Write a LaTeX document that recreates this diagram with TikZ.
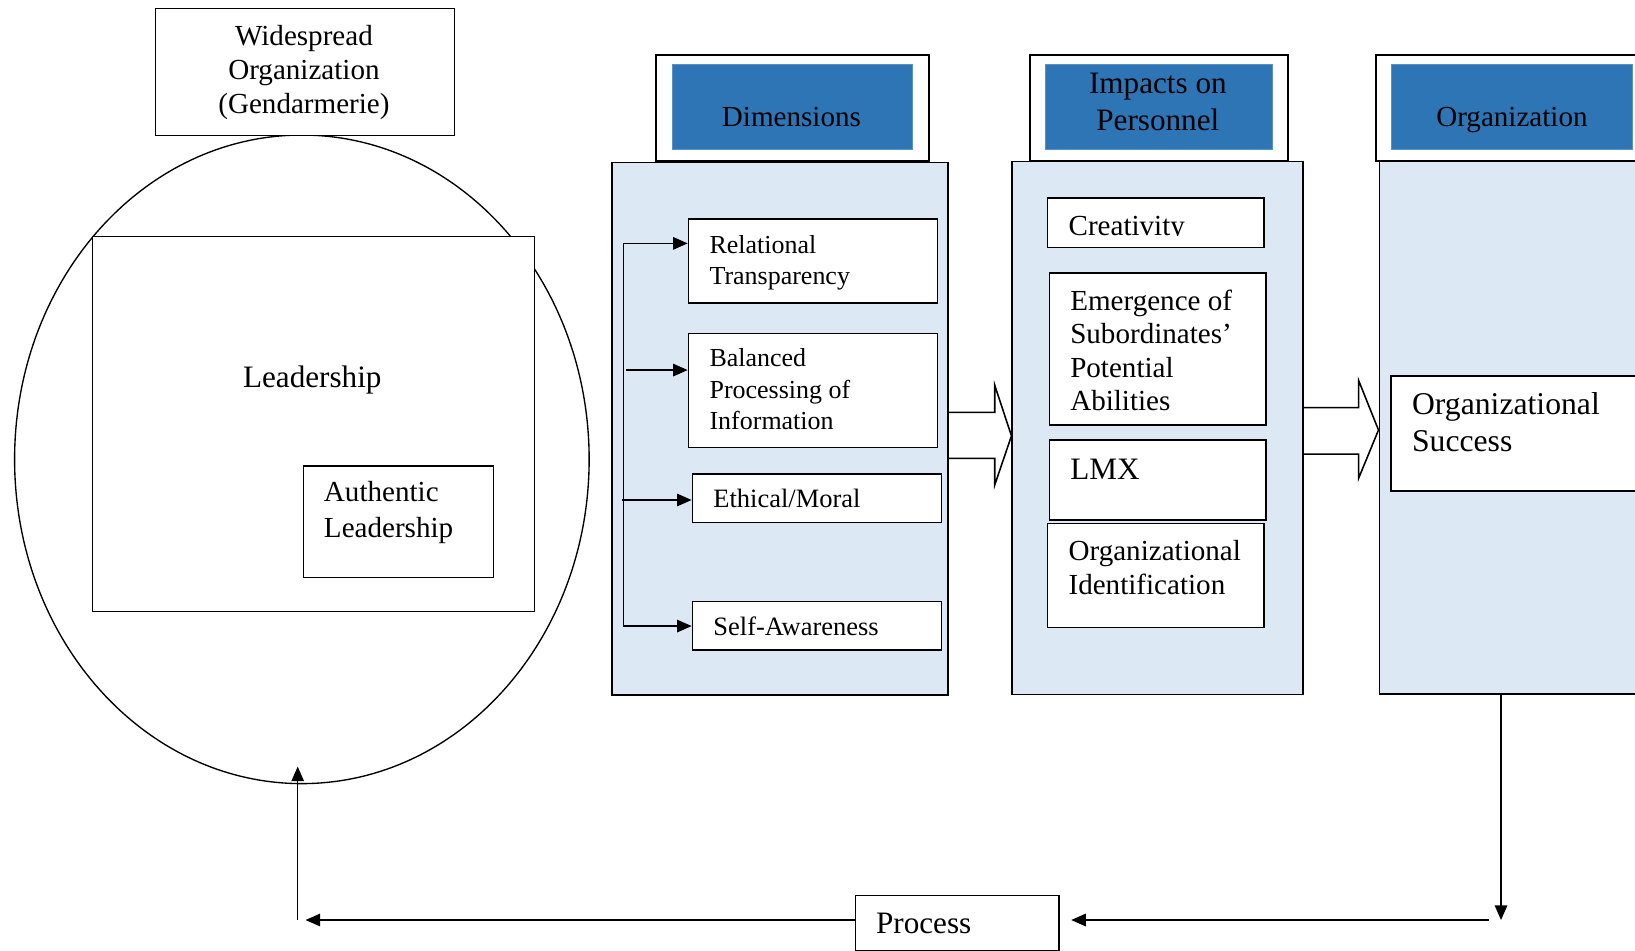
\documentclass[tikz,border=0pt]{standalone}
\usepackage{fontspec}
\setmainfont{Liberation Serif}
\usetikzlibrary{arrows.meta,shapes.geometric}
\definecolor{hdrblue}{HTML}{2E75B6}
\definecolor{panelblue}{HTML}{DDE8F5}
\tikzset{
  box/.style={draw, rectangle, inner sep=0, anchor=north west, line width=1.5bp, fill=white},
  panel/.style={box, fill=panelblue},
  hdr/.style={box, line width=2bp},
  hdrfill/.style={rectangle, inner sep=0, anchor=north west, fill=hdrblue, draw=hdrblue!80!white, line width=0.6bp},
  % multi-line labels are placed by the baseline of their last line
  lbl/.style={inner sep=0, anchor=base west, align=left},
  clbl/.style={inner sep=0, anchor=base, align=center},
  fa/.style={font=\fontsize{25}{30.3}\selectfont},
  fb/.style={font=\fontsize{28}{32.5}\selectfont},
  fc/.style={font=\fontsize{30}{36}\selectfont},
  arr/.style={line width=1.3bp, -{Triangle[length=14bp,width=12bp]}},
  blockarrow/.style={line width=1.5bp, line join=miter},
}
\begin{document}
\begin{tikzpicture}[x=1bp, y=-1bp]
\useasboundingbox (0,0) rectangle (1568,912);
\clip (0,0) rectangle (1568,912);

% ---- left: organisation, leadership ----
\node[draw, ellipse, line width=1.3bp, inner sep=0, minimum width=551bp, minimum height=622bp] (circ) at (289.5,440.5) {};
\node[box, line width=1.3bp, minimum width=286.5bp, minimum height=122bp] (wide) at (148.5,7.5) {};
\node[clbl, font=\fontsize{28}{33}\selectfont] (twide) at (291.5,109.2) {Widespread\\Organization\\(Gendarmerie)};
\node[box, line width=1.3bp, minimum width=424bp, minimum height=360bp] (lead) at (88,226) {};
\node[clbl, fc] (tlead) at (299.5,372) {Leadership};
\node[box, line width=1.3bp, minimum width=182bp, minimum height=106.7bp] (auth) at (290.5,446.3) {};
\node[lbl, font=\fontsize{28}{34}\selectfont] (tauth) at (310.5,515) {Authentic\\Leadership};

% ---- dimensions ----
\node[panel, minimum width=322.5bp, minimum height=511bp] (dimp) at (586,155) {};
\node[hdr, minimum width=262bp, minimum height=102bp] (dimh) at (628.2,51.5) {};
\node[hdrfill, minimum width=229.5bp, minimum height=81.8bp] (dimb) at (644.8,61.4) {};
\node[clbl, fb] (tdim) at (759,121.5) {Dimensions};

\node[box, minimum width=238.8bp, minimum height=80.6bp] (rt) at (659.5,209.4) {};
\node[lbl, fa] (trt) at (680.3,273.3) {Relational\\Transparency};
\node[box, minimum width=238.8bp, minimum height=109.4bp] (bp) at (659.5,319) {};
\node[lbl, font=\fontsize{25}{30}\selectfont] (tbp) at (680.3,411.6) {Balanced\\Processing of\\Information};
\node[box, minimum width=238.8bp, minimum height=46.3bp] (em) at (663.3,454) {};
\node[lbl, font=\fontsize{25.5}{30}\selectfont] (tem) at (684,486.6) {Ethical/Moral};
\node[box, minimum width=238.8bp, minimum height=46.7bp] (sa) at (663.3,576) {};
\node[lbl, font=\fontsize{25.5}{30}\selectfont] (tsa) at (684,609) {Self-Awareness};

% bracket feeding the four dimensions
\coordinate (b1) at (597.8,233.4);
\coordinate (b2) at (600.4,354.9);
\coordinate (b3) at (596.2,479.5);
\coordinate (b4) at (597.8,600.4);
\draw[line width=1.3bp] (b1) -- (b4);
\draw[arr] (b1) -- (b1 -| rt.west);
\draw[arr] (b2) -- (b2 -| bp.west);
\draw[arr] (b3) -- (b3 -| em.west);
\draw[arr] (b4) -- (b4 -| sa.west);

% ---- impacts on personnel ----
\node[panel, minimum width=279bp, minimum height=511bp] (impp) at (970,154.1) {};
\node[hdr, minimum width=247.4bp, minimum height=102bp] (imph) at (987.2,51.5) {};
\node[hdrfill, minimum width=217.1bp, minimum height=81.8bp] (impb) at (1002.5,61.4) {};
\node[clbl, font=\fontsize{30}{35.8}\selectfont] (timp) at (1110.4,125.3) {Impacts on\\Personnel};

\node[box, minimum width=207.8bp, minimum height=47.3bp] (cr) at (1003.8,189.3) {};
\begin{scope}
  \clip (1003.8,189.3) rectangle (1211.6,225.8);
  \node[lbl, fb] (tcr) at (1024.6,225.4) {Creativity};
\end{scope}
\node[box, minimum width=207.5bp, minimum height=145.4bp] (es) at (1005.7,261.2) {};
\node[lbl, font=\fontsize{28}{32.2}\selectfont] (tes) at (1026.2,393.9) {Emergence of\\Subordinates’\\Potential\\Abilities};
\node[box, minimum width=207.5bp, minimum height=76.7bp] (lmx) at (1005.7,421) {};
\node[lbl, fc] (tlmx) at (1026.2,459.4) {LMX};
\node[box, minimum width=207.8bp, minimum height=99.7bp] (oi) at (1003.8,501.3) {};
\node[lbl, font=\fontsize{28}{32.3}\selectfont] (toi) at (1024.6,570) {Organizational\\Identification};

% ---- organization ----
\node[panel, minimum width=300bp, minimum height=511bp] (orgp) at (1322,154) {};
\node[hdr, minimum width=300bp, minimum height=102bp] (orgh) at (1318.7,51.5) {};
\node[hdrfill, minimum width=231bp, minimum height=81.8bp] (orgb) at (1334,61.4) {};
\node[clbl, fb] (torg) at (1450,121) {Organization};
\node[box, minimum width=290bp, minimum height=110.4bp] (os) at (1333,359.6) {};
\node[lbl, font=\fontsize{30.5}{36}\selectfont] (tos) at (1354,433) {Organizational\\Success};

% ---- block arrows between the panels ----
\draw[blockarrow] (dimp.east |- 0,395.5) -- (954,395.5) -- (954,369.5) -- (impp.west |- 0,418)
  -- (954,465) -- (954,439.5) -- (dimp.east |- 0,439.5);
\draw[blockarrow] (impp.east |- 0,391) -- (1303,391) -- (1303,365) -- (orgp.west |- 0,412.4)
  -- (1303,458.5) -- (1303,435.5) -- (impp.east |- 0,435.5);

% ---- feedback loop ----
\node[box, line width=1.3bp, minimum width=195bp, minimum height=52.6bp] (proc) at (820,858.4) {};
\node[lbl, fc] (tproc) at (840,895) {Process};
\coordinate (dn) at (1439.5,882.3);
\coordinate (hr) at (1428,882.3);
\coordinate (hl) at (293,882.3);
\coordinate (up) at (285.5,882.3);
\draw[arr] (orgp.south -| dn) -- (dn);
\draw[arr] (hr) -- ([xshift=11bp]proc.east |- hr);
\draw[arr] (proc.west |- hl) -- (hl);
\draw[arr, line width=1bp] (up) -- ([yshift=17bp]up |- circ.south);
\end{tikzpicture}
\end{document}
